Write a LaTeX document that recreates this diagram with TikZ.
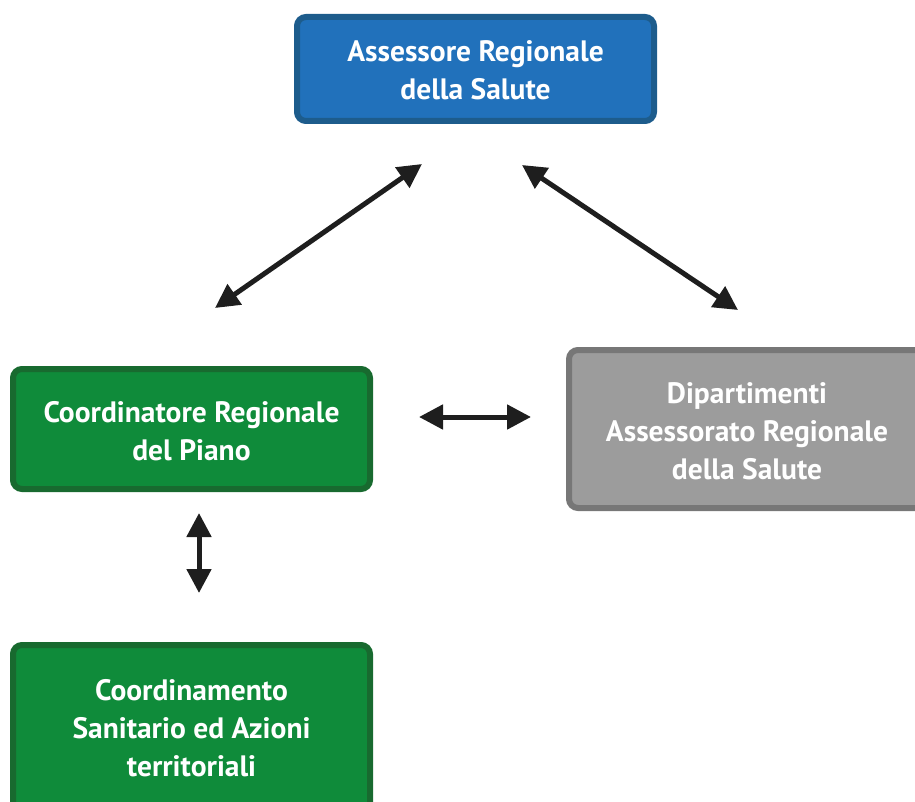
\documentclass[tikz,border=0pt]{standalone}
\usepackage{fontspec}
\setmainfont{PT Sans}
\usetikzlibrary{arrows.meta}
\definecolor{bluefill}{HTML}{2171BB}
\definecolor{blueedge}{HTML}{1D5C8C}
\definecolor{greenfill}{HTML}{0F8B3A}
\definecolor{greenedge}{HTML}{186A2F}
\definecolor{grayfill}{HTML}{9C9C9C}
\definecolor{grayedge}{HTML}{777777}
\definecolor{arrowcol}{HTML}{1E1E1E}
\tikzset{
  x=1pt, y=-1pt,
  orgbox/.style={rounded corners=9pt, line width=6pt},
  boxtext/.style={text=white, font=\bfseries\fontsize{29.5}{38}\selectfont, align=center, inner sep=0pt},
  link/.style={draw=arrowcol, line width=5pt, {Triangle[length=24pt,width=24pt]}-{Triangle[length=24pt,width=24pt]}}
}
\begin{document}
\begin{tikzpicture}
\useasboundingbox (0,0) rectangle (915,802);
% boxes
\draw[orgbox, fill=bluefill, draw=blueedge] (297,17) rectangle (654,121);
\node[boxtext] (ass) at (475.5,70) {Assessore Regionale\\della Salute};
\draw[orgbox, fill=greenfill, draw=greenedge] (13,369) rectangle (370,489);
\node[boxtext] (coord) at (191.5,431) {Coordinatore Regionale\\del Piano};
\draw[orgbox, fill=grayfill, draw=grayedge] (569,350) rectangle (930,508);
\node[boxtext] (dip) at (747,431) {Dipartimenti\\Assessorato Regionale\\della Salute};
\draw[orgbox, fill=greenfill, draw=greenedge] (13,645) rectangle (370,812);
\node[boxtext] (san) at (191.5,728) {Coordinamento\\Sanitario ed Azioni\\territoriali};
% connector end points
\coordinate (a1) at (215,308); \coordinate (a2) at (422,164);
\coordinate (b1) at (522,165); \coordinate (b2) at (738,310);
\coordinate (c1) at (419,417); \coordinate (c2) at (531,417);
\coordinate (d1) at (199,513); \coordinate (d2) at (199,593);
\draw[link] (a1) -- (a2);
\draw[link] (b1) -- (b2);
\draw[link] (c1) -- (c2);
\draw[link] (d1) -- (d2);
\end{tikzpicture}
\end{document}
